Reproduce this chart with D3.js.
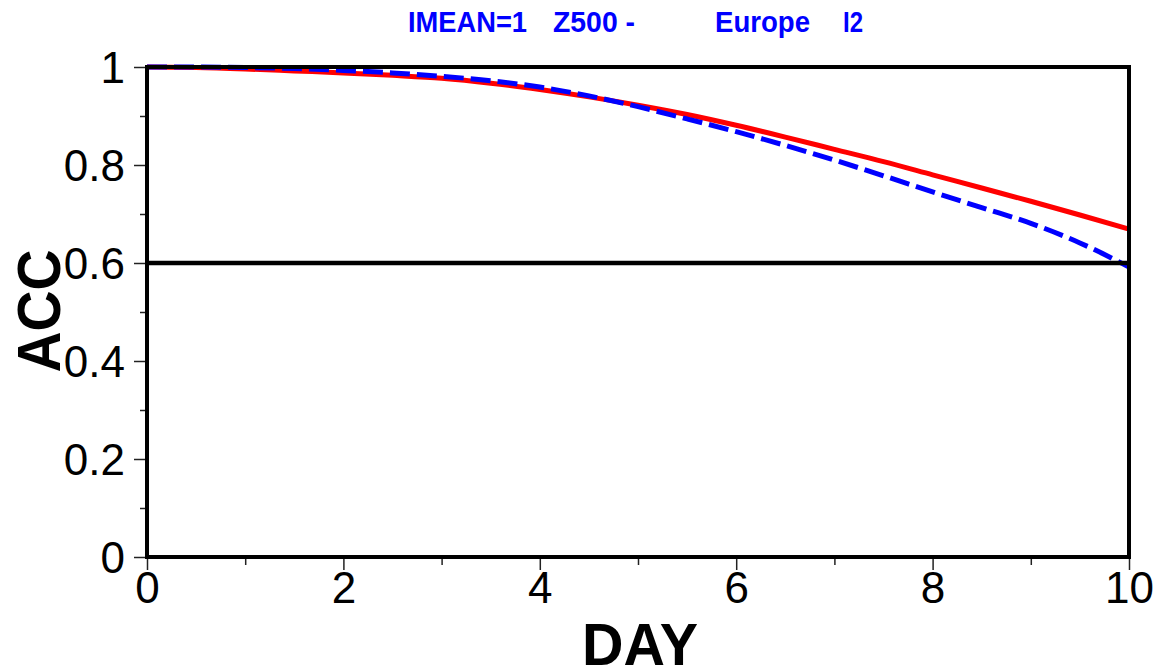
<!DOCTYPE html>
<html><head><meta charset="utf-8">
<script src="https://cdn.jsdelivr.net/npm/d3@7"></script>
<style>body{margin:0;background:#fff}svg{display:block}</style>
</head><body><svg id="c" width="1159" height="671"></svg>
<script>
const days = [0,0.5,1,1.5,2,2.5,3,3.5,4,4.5,5,5.5,6,6.5,7,7.5,8,8.5,9,9.5,10];
const accRed = [1.000,0.999,0.996,0.992,0.988,0.983,0.977,0.967,0.954,0.939,0.922,0.903,0.881,0.857,0.832,0.807,0.780,0.753,0.726,0.698,0.669];
const accBlue = [1.000,1.000,0.999,0.997,0.993,0.988,0.981,0.972,0.959,0.941,0.919,0.894,0.868,0.840,0.810,0.778,0.745,0.713,0.681,0.641,0.592];
const threshold = 0.6;
const xTicks = [0,2,4,6,8,10];
const xMinor = [1,3,5,7,9];
const yTicks = [0,0.2,0.4,0.6,0.8,1];
const yMinor = [0.1,0.3,0.5,0.7,0.9];
const titleParts = [["IMEAN=1",408,119],["Z500 -",553,82],["Europe",715,95],["I2",843,20]];

const svg = d3.select("#c");
const x = d3.scaleLinear().domain([0,10]).range([147,1129]);
const y = d3.scaleLinear().domain([0,1]).range([557,67]);
const font = "Liberation Sans, Arial, Helvetica, sans-serif";

// title
svg.selectAll("text.title").data(titleParts).join("text")
  .attr("class","title").attr("x",d=>d[1]).attr("y",32)
  .attr("textLength",d=>d[2]).attr("lengthAdjust","spacingAndGlyphs")
  .attr("font-family",font).attr("font-weight","bold").attr("font-size",29)
  .attr("fill","#0000ff").text(d=>d[0]);

// data lines
const line = d3.line().x((d,i)=>x(days[i])).y(d=>y(d)).curve(d3.curveMonotoneX);
svg.append("path").datum(accRed).attr("d",line).attr("fill","none")
  .attr("stroke","#ff0000").attr("stroke-width",5);
svg.append("path").datum(accBlue).attr("d",line).attr("fill","none")
  .attr("stroke","#0000ff").attr("stroke-width",5).attr("stroke-dasharray","20,7");

// threshold line
svg.append("line").attr("x1",x(0)).attr("x2",x(10)).attr("y1",y(threshold)).attr("y2",y(threshold))
  .attr("stroke","#000").attr("stroke-width",4.5);

// axes
const gx = svg.append("g").attr("transform",`translate(0,${y(0)})`)
  .call(d3.axisBottom(x).tickValues(xTicks).tickSize(13).tickPadding(2).tickFormat(d3.format("d")));
const gxm = svg.append("g").attr("transform",`translate(0,${y(0)})`)
  .call(d3.axisBottom(x).tickValues(xMinor).tickSize(8).tickFormat(""));
const gy = svg.append("g").attr("transform",`translate(${x(0)},0)`)
  .call(d3.axisLeft(y).tickValues(yTicks).tickSize(13).tickPadding(9).tickFormat(d=>d3.format("~g")(d)));
const gym = svg.append("g").attr("transform",`translate(${x(0)},0)`)
  .call(d3.axisLeft(y).tickValues(yMinor).tickSize(7).tickFormat(""));
[gx,gxm,gy,gym].forEach(g=>{
  g.select(".domain").remove();
  g.selectAll(".tick line").attr("stroke","#222").attr("stroke-width",1.5);
  g.selectAll("text").attr("font-family",font).attr("font-size",44).attr("fill","#000");
});
gy.selectAll("text").attr("dy","0.36em");
gx.selectAll("text").attr("dy","0.71em");

// frame
svg.append("rect").attr("x",x(0)).attr("y",y(1)).attr("width",x(10)-x(0)).attr("height",y(0)-y(1))
  .attr("fill","none").attr("stroke","#000").attr("stroke-width",4);

// axis titles
svg.append("text").attr("x",640).attr("y",665).attr("text-anchor","middle")
  .attr("font-family",font).attr("font-weight","bold").attr("font-size",60)
  .attr("textLength",116).attr("lengthAdjust","spacingAndGlyphs").text("DAY");
svg.append("text").attr("transform","translate(60,311) rotate(-90)").attr("text-anchor","middle")
  .attr("font-family",font).attr("font-weight","bold").attr("font-size",62)
  .attr("textLength",123).attr("lengthAdjust","spacingAndGlyphs").text("ACC");
</script></body></html>
